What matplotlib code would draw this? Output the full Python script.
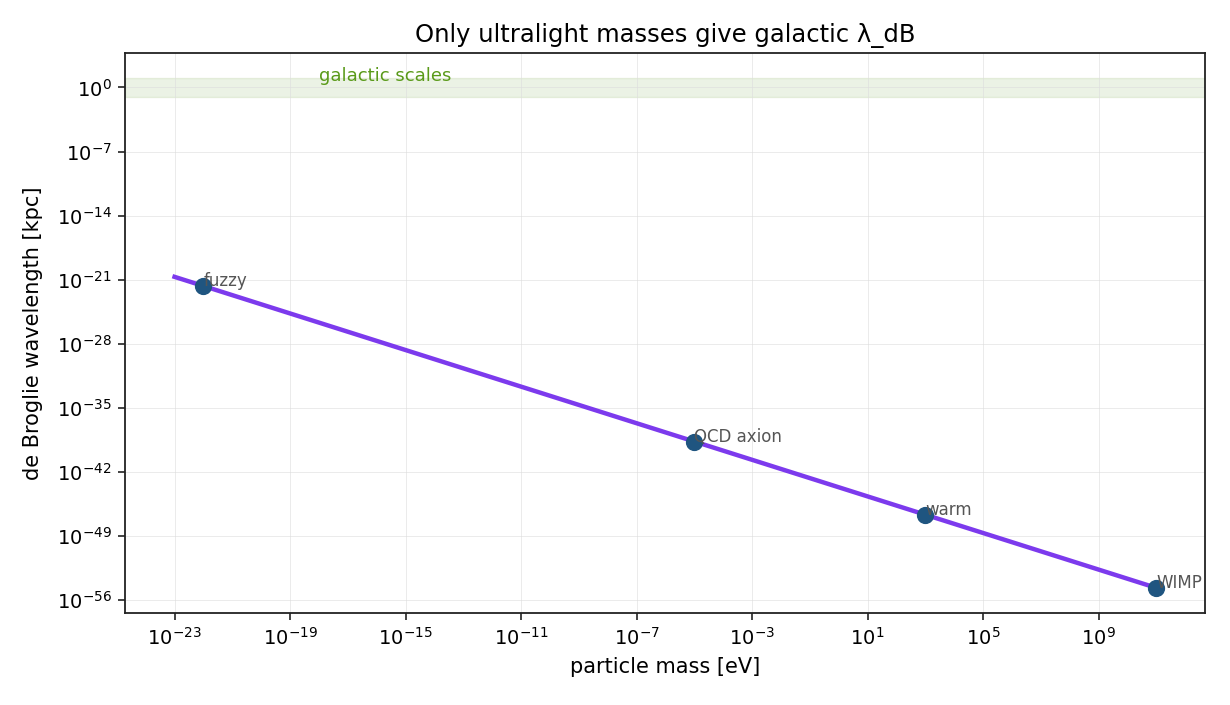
import matplotlib
matplotlib.use("Agg")
import matplotlib.pyplot as plt
from matplotlib.ticker import FixedLocator, NullLocator

# de Broglie wavelength line (straight in log-log)
line_mass = [1e-23, 1e11]
line_lambda = [2.0e-21, 2.0e-55]

# marked candidates
cand_names = ["fuzzy", "QCD axion", "warm", "WIMP"]
cand_mass = [1e-22, 1e-5, 1e3, 1e11]
cand_lambda = [2.0e-22, 2.0e-39, 2.0e-47, 2.0e-55]

# galactic band [kpc]
band_lo, band_hi = 0.1, 10.0

# tick positions as shown
x_ticks = [1e-23, 1e-19, 1e-15, 1e-11, 1e-7, 1e-3, 1e1, 1e5, 1e9]
y_ticks = [1e0, 1e-7, 1e-14, 1e-21, 1e-28, 1e-35, 1e-42, 1e-49, 1e-56]

fig, ax = plt.subplots(figsize=(12.3, 7.05), dpi=100)

ax.axhspan(band_lo, band_hi, color="#6a9f3a", alpha=0.13, zorder=0)
ax.text(1e-18, 2.0, "galactic scales", color="#5a9a1a", fontsize=13,
        va="bottom", ha="left")

ax.plot(line_mass, line_lambda, color="#7c3aed", lw=3.2, zorder=2)
ax.scatter(cand_mass, cand_lambda, s=130, color="#1f5580", zorder=3)
for name, m, l in zip(cand_names, cand_mass, cand_lambda):
    ax.text(m, l, name, fontsize=12, color="#555555", va="baseline",
            ha="left", zorder=4)

ax.set_xscale("log")
ax.set_yscale("log")
ax.xaxis.set_major_locator(FixedLocator(x_ticks))
ax.yaxis.set_major_locator(FixedLocator(y_ticks))
ax.xaxis.set_minor_locator(NullLocator())
ax.yaxis.set_minor_locator(NullLocator())
ax.grid(True, color="#dddddd", lw=0.7, alpha=0.6)
ax.set_axisbelow(True)
for s in ax.spines.values():
    s.set_color("#222222")
    s.set_linewidth(1.3)

ax.set_xlabel("particle mass [eV]", fontsize=15, labelpad=6)
ax.set_ylabel("de Broglie wavelength [kpc]", fontsize=15, labelpad=10)
ax.set_title("Only ultralight masses give galactic λ_dB", fontsize=17.5,
             pad=8)
ax.tick_params(labelsize=14, length=5, width=1.2, color="#222222", pad=5)

plt.subplots_adjust(left=0.102, right=0.98, top=0.925, bottom=0.13)
plt.savefig("out.png", dpi=100)
